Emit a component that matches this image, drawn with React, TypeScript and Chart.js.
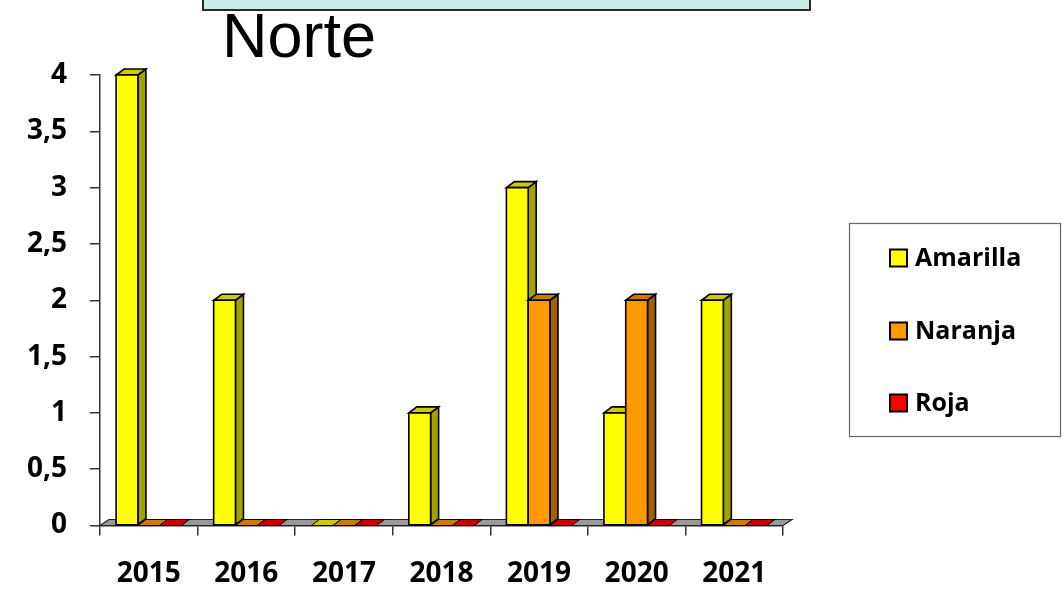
import React, { useEffect, useRef } from 'react';
import { Chart, registerables } from 'chart.js';

Chart.register(...registerables);

const titleText = 'Norte';
const years = ['2015', '2016', '2017', '2018', '2019', '2020', '2021'];
const seriesNames = ['Amarilla', 'Naranja', 'Roja'];
const amarilla = [4, 2, 0, 1, 3, 1, 2];
const naranja = [0, 0, 0, 0, 2, 2, 0];
const roja = [0, 0, 0, 0, 0, 0, 0];
const yMin = 0;
const yMax = 4;
const yStep = 0.5;

const frontColors = ['#FFFF00', '#FF9900', '#FF0000'];
const topColors = ['#CCCC00', '#CC7A00', '#CC0000'];
const sideColors = ['#A3A300', '#A35F00', '#990000'];

const DX = 8;
const DY = -6;
const FONT = '"Open Sans", "DejaVu Sans", sans-serif';

const threeDPlugin = {
  id: 'threeD',
  beforeDatasetsDraw(chart: any) {
    const ctx = chart.ctx;
    const { left, right } = chart.chartArea;
    const base0 = chart.scales.y.getPixelForValue(0);
    ctx.save();
    ctx.lineJoin = 'miter';
    // floor
    ctx.beginPath();
    ctx.moveTo(left, base0);
    ctx.lineTo(right, base0);
    ctx.lineTo(right + 9, base0 - 6);
    ctx.lineTo(left + 9, base0 - 6);
    ctx.closePath();
    ctx.fillStyle = '#999999';
    ctx.fill();
    ctx.strokeStyle = '#222';
    ctx.lineWidth = 1.2;
    ctx.stroke();

    chart.data.datasets.forEach((ds: any, di: number) => {
      const meta = chart.getDatasetMeta(di);
      meta.data.forEach((bar: any) => {
        const { x, y, base, width } = bar.getProps(['x', 'y', 'base', 'width'], true);
        const x0 = x - width / 2;
        const x1 = x + width / 2;
        ctx.strokeStyle = '#000';
        ctx.lineWidth = 1.6;
        if (Math.abs(base - y) < 0.5) {
          ctx.beginPath();
          ctx.moveTo(x0, base);
          ctx.lineTo(x1, base);
          ctx.lineTo(x1 + DX, base + DY);
          ctx.lineTo(x0 + DX, base + DY);
          ctx.closePath();
          ctx.fillStyle = topColors[di];
          ctx.fill();
          ctx.lineWidth = 1;
          ctx.stroke();
          return;
        }
        // side
        ctx.beginPath();
        ctx.moveTo(x1, y);
        ctx.lineTo(x1 + DX, y + DY);
        ctx.lineTo(x1 + DX, base + DY);
        ctx.lineTo(x1, base);
        ctx.closePath();
        ctx.fillStyle = sideColors[di];
        ctx.fill();
        ctx.stroke();
        // top
        ctx.beginPath();
        ctx.moveTo(x0, y);
        ctx.lineTo(x1, y);
        ctx.lineTo(x1 + DX, y + DY);
        ctx.lineTo(x0 + DX, y + DY);
        ctx.closePath();
        ctx.fillStyle = topColors[di];
        ctx.fill();
        ctx.stroke();
        // front
        ctx.beginPath();
        ctx.rect(x0, y, width, base - y);
        ctx.fillStyle = frontColors[di];
        ctx.fill();
        ctx.stroke();
      });
    });
    ctx.restore();
    return false;
  },
};

const decorPlugin = {
  id: 'decor',
  beforeDraw(chart: any) {
    const ctx = chart.ctx;
    ctx.save();
    ctx.fillStyle = '#FFFFFF';
    ctx.fillRect(0, 0, chart.width, chart.height);
    ctx.fillStyle = '#CBEBE7';
    ctx.fillRect(203, -5, 607, 15);
    ctx.strokeStyle = '#2a2a2a';
    ctx.lineWidth = 2;
    ctx.strokeRect(203, -5, 607, 15);
    ctx.restore();
  },
  afterDraw(chart: any) {
    const ctx = chart.ctx;
    ctx.save();
    // title
    ctx.fillStyle = '#000';
    ctx.font = '63px "Liberation Sans", Arial, sans-serif';
    ctx.textBaseline = 'alphabetic';
    ctx.textAlign = 'left';
    ctx.fillText(titleText, 222, 57);
    // legend
    ctx.strokeStyle = '#666';
    ctx.lineWidth = 1.2;
    ctx.strokeRect(849.5, 223.5, 211, 213);
    const ys = [258, 331, 403];
    ctx.font = `bold 25px ${FONT}`;
    ctx.textBaseline = 'middle';
    chart.data.datasets.forEach((ds: any, i: number) => {
      const cy = ys[i];
      ctx.fillStyle = frontColors[i];
      ctx.fillRect(890, cy - 8.5, 17, 17);
      ctx.strokeStyle = '#000';
      ctx.lineWidth = 2;
      ctx.strokeRect(890, cy - 8.5, 17, 17);
      ctx.fillStyle = '#000';
      ctx.fillText(ds.label, 915, cy + 1);
    });
    ctx.restore();
  },
};

export default function App() {
  const ref = useRef<HTMLCanvasElement | null>(null);
  useEffect(() => {
    if (!ref.current) return;
    const chart = new Chart(ref.current, {
      type: 'bar',
      data: {
        labels: years,
        datasets: [
          { label: seriesNames[0], data: amarilla, backgroundColor: frontColors[0] },
          { label: seriesNames[1], data: naranja, backgroundColor: frontColors[1] },
          { label: seriesNames[2], data: roja, backgroundColor: frontColors[2] },
        ],
      },
      options: {
        responsive: false,
        animation: false,
        devicePixelRatio: 1,
        layout: { padding: { top: 75, right: 280, left: 0, bottom: 0 } },
        datasets: { bar: { categoryPercentage: 0.67, barPercentage: 1 } },
        plugins: {
          legend: { display: false },
          tooltip: { enabled: false },
          title: { display: false },
        },
        scales: {
          x: {
            offset: true,
            grid: { offset: true, drawOnChartArea: false, drawTicks: true, tickLength: 10, color: '#333', lineWidth: 1.5 },
            border: { display: true, color: '#333', width: 1.5 },
            ticks: { color: '#000', font: { family: FONT, size: 28, weight: 'bold' }, padding: 22, maxRotation: 0 },
            afterFit: (s: any) => { s.height = 65.5; },
          },
          y: {
            min: yMin,
            max: yMax,
            ticks: {
              stepSize: yStep,
              color: '#000',
              font: { family: FONT, size: 28, weight: 'bold' },
              padding: 23,
              callback: (v: any) => String(v).replace('.', ','),
            },
            grid: { drawOnChartArea: false, drawTicks: true, tickLength: 10, color: '#333', lineWidth: 1.5 },
            border: { display: true, color: '#333', width: 1.5 },
            afterFit: (s: any) => { s.width = 100; },
          },
        },
      } as any,
      plugins: [threeDPlugin, decorPlugin],
    });
    return () => chart.destroy();
  }, []);
  return (
    <canvas
      ref={ref}
      width={1063}
      height={591}
      style={{ position: 'fixed', left: 0, top: 0, width: 1063, height: 591, display: 'block' }}
    />
  );
}
